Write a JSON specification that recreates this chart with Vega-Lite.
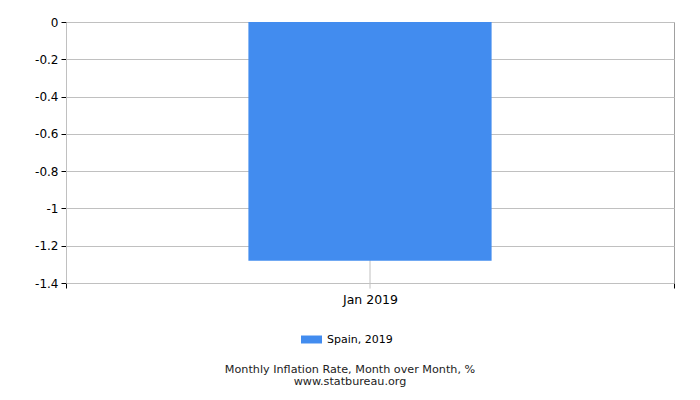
{
  "$schema": "https://vega.github.io/schema/vega-lite/v6.json",
  "width": 608,
  "height": 261,
  "autosize": "none",
  "padding": {"left": 66, "top": 22, "right": 26, "bottom": 117},
  "background": "white",
  "data": {"values": [{"month": "Jan 2019", "value": -1.28, "series": "Spain, 2019"}]},
  "title": {
    "text": ["Monthly Inflation Rate, Month over Month, %", "www.statbureau.org"],
    "orient": "bottom",
    "anchor": "middle",
    "fontSize": 11.2,
    "fontWeight": "normal",
    "font": "DejaVu Sans",
    "color": "#222222",
    "lineHeight": 12,
    "offset": 19,
    "dx": -20
  },
  "config": {
    "view": {"stroke": "#a0a0a0", "strokeWidth": 1},
    "font": "DejaVu Sans",
    "axisY": {
      "title": null,
      "tickCount": 7,
      "labelExpr": "'' + datum.value",
      "labelOverlap": false,
      "labelBound": false,
      "labelFlush": false,
      "grid": true,
      "gridColor": "#c0c0c0",
      "domainColor": "#c0c0c0",
      "tickColor": "#000000",
      "tickSize": 5,
      "labelFontSize": 12,
      "labelColor": "#000000",
      "labelPadding": 3,
      "labelFont": "DejaVu Sans"
    }
  },
  "encoding": {
    "x": {
      "field": "month",
      "type": "nominal",
      "scale": {"paddingInner": 0, "paddingOuter": 0},
      "axis": {
        "title": null,
        "labelAngle": 0,
        "labelAlign": "center",
        "labelFlush": false,
        "tickBand": "extent",
        "grid": false,
        "domainColor": "#c0c0c0",
        "tickColor": "#000000",
        "tickSize": 5,
        "labelFontSize": 12.5,
        "labelColor": "#000000",
        "labelPadding": 5,
        "labelFont": "DejaVu Sans"
      }
    }
  },
  "layer": [
    {
      "mark": {"type": "rule", "color": "#c0c0c0", "strokeWidth": 1},
      "encoding": {
        "y": {"datum": 0, "type": "quantitative", "scale": {"domain": [-1.4, 0], "nice": false, "zero": false}},
        "y2": {"datum": -1.43}
      }
    },
    {
      "mark": {"type": "bar", "width": {"band": 0.4}, "color": "#428cef"},
      "encoding": {
        "y": {
          "field": "value",
          "type": "quantitative",
          "title": null,
          "scale": {"domain": [-1.4, 0], "nice": false, "zero": false}
        },
        "color": {
          "field": "series",
          "type": "nominal",
          "scale": {"range": ["#428cef"]},
          "legend": {
            "title": null,
            "orient": "none",
            "legendX": 235,
            "legendY": 307,
            "symbolType": "M-1,-0.38H1V0.38H-1Z",
            "symbolSize": 441,
            "symbolStrokeWidth": 0,
            "labelFontSize": 11,
            "labelFont": "DejaVu Sans",
            "labelColor": "#000000",
            "labelOffset": 5
          }
        }
      }
    }
  ]
}
